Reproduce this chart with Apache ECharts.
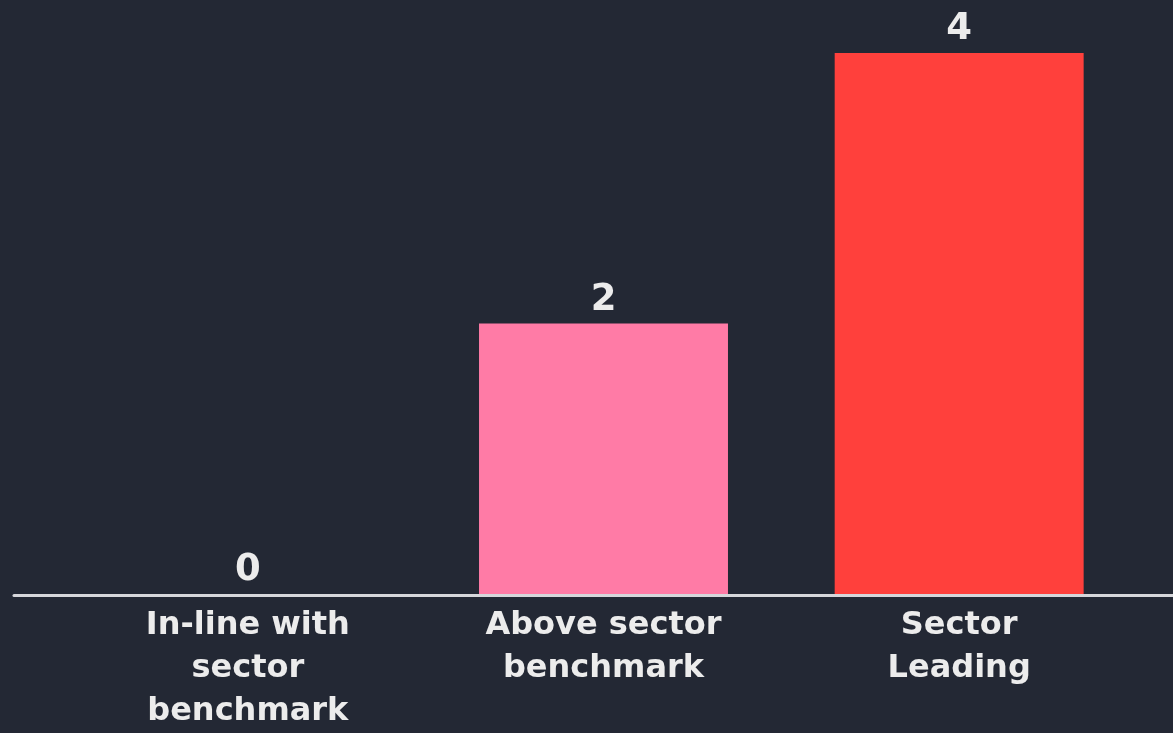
<!DOCTYPE html>
<html>
<head>
<meta charset="utf-8">
<script src="https://cdn.jsdelivr.net/npm/echarts@6/dist/echarts.min.js"></script>
<style>
  html, body { margin: 0; padding: 0; background: #232834; }
  #chart { width: 1173px; height: 733px; }
</style>
</head>
<body>
<div id="chart"></div>
<script>
// Rating categories and counts
const categories = ['In-line with\nsector\nbenchmark', 'Above sector\nbenchmark', 'Sector\nLeading'];
const counts = [0, 2, 4];
const barColors = ['#FF7BA6', '#FF7BA6', '#FF403C'];

const chart = echarts.init(document.getElementById('chart'));

const textColor = '#ECECEC';
const fontFamily = '"DejaVu Sans", sans-serif';

chart.setOption({
  backgroundColor: '#232834',
  animation: false,
  grid: [
    { left: 70, right: 36, top: 53, bottom: 138 },
    // wider grid carrying only the baseline rule
    { left: 14, right: 0, top: 53, bottom: 138 }
  ],
  xAxis: [
    {
      type: 'category',
      gridIndex: 0,
      data: categories,
      axisLine: { show: false },
      axisTick: { show: false },
      axisLabel: {
        color: textColor,
        fontFamily: fontFamily,
        fontWeight: 'bold',
        fontSize: 32,
        lineHeight: 43,
        margin: 10,
        interval: 0
      }
    },
    {
      type: 'value',
      gridIndex: 1,
      min: 0,
      max: 1,
      axisLine: { show: true, lineStyle: { color: '#D6D7DB', width: 3 } },
      axisTick: { show: false },
      axisLabel: { show: false },
      splitLine: { show: false }
    }
  ],
  yAxis: [
    { type: 'value', gridIndex: 0, min: 0, max: 4, show: false },
    { type: 'value', gridIndex: 1, min: 0, max: 1, show: false }
  ],
  series: [
    {
      type: 'bar',
      xAxisIndex: 0,
      yAxisIndex: 0,
      barWidth: '70%',
      data: counts.map((v, i) => ({ value: v, itemStyle: { color: barColors[i] } })),
      label: {
        show: true,
        position: 'top',
        distance: 5,
        color: textColor,
        fontFamily: fontFamily,
        fontWeight: 'bold',
        fontSize: 37
      }
    }
  ]
});
</script>
</body>
</html>
